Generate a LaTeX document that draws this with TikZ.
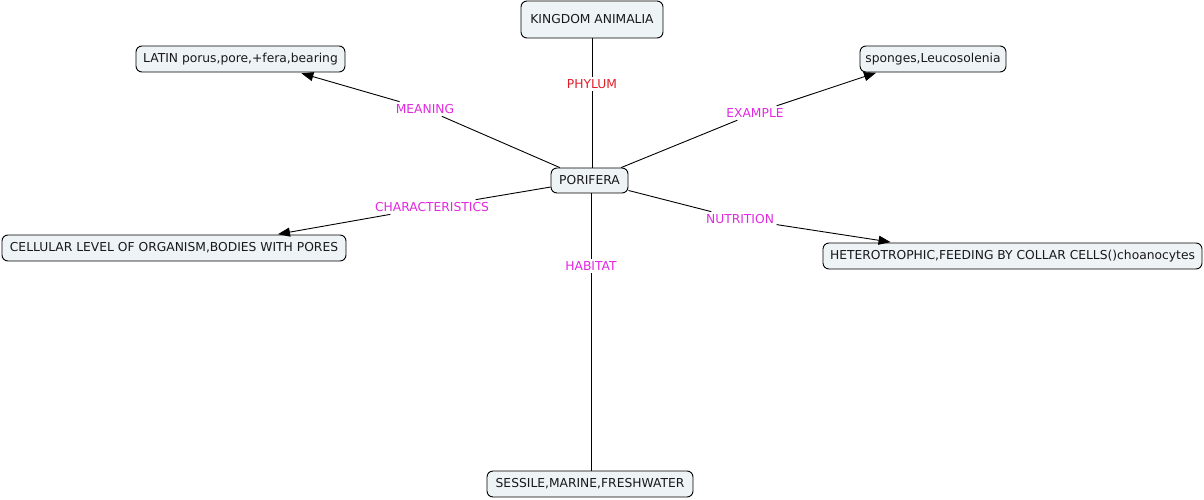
\documentclass[tikz,border=0pt]{standalone}
\usepackage{fontspec}
\setmainfont{DejaVu Sans}
\usetikzlibrary{arrows.meta}
\definecolor{boxfill}{RGB}{238,243,245}
\definecolor{lblmag}{RGB}{225,40,225}
\definecolor{lblred}{RGB}{225,30,40}
\begin{document}
\begin{tikzpicture}[x=1pt,y=-1pt,
  concept/.style={draw=black,line width=0.9pt,fill=boxfill,rounded corners=6pt,
    font=\fontsize{12.3}{14}\selectfont,inner sep=2pt,minimum height=26pt,text=black!90},
  linklbl/.style={font=\fontsize{12.3}{14}\selectfont,inner sep=2.5pt,text=lblmag},
  conn/.style={line width=0.9pt,black},
  arr/.style={conn,-{Triangle[length=12pt,width=9pt]}}]
\useasboundingbox (0,0) rectangle (1204,500);
% concepts
\node[concept,minimum width=142pt,minimum height=37pt] (kingdom) at (592,19.5) {KINGDOM ANIMALIA};
\node[concept,minimum width=209pt] (latin) at (240.5,59) {LATIN porus,pore,+fera,bearing};
\node[concept,minimum width=146pt] (sponges) at (933,59) {sponges,Leucosolenia};
\node[concept,minimum width=77pt,minimum height=25pt] (porifera) at (589.5,180.5) {PORIFERA};
\node[concept,minimum width=344pt] (cellular) at (174,248) {CELLULAR LEVEL OF ORGANISM,BODIES WITH PORES};
\node[concept,minimum width=379pt] (hetero) at (1012.5,256) {HETEROTROPHIC,FEEDING BY COLLAR CELLS()choanocytes};
\node[concept,minimum width=206pt] (sessile) at (590,484) {SESSILE,MARINE,FRESHWATER};
% link labels
\node[linklbl,text=lblred] (phylum) at (592,84) {PHYLUM};
\node[linklbl] (meaning) at (425,109) {MEANING};
\node[linklbl] (example) at (755,113) {EXAMPLE};
\node[linklbl] (charac) at (432,207) {CHARACTERISTICS};
\node[linklbl] (nutrition) at (740,219) {NUTRITION};
\node[linklbl] (habitat) at (591,266) {HABITAT};
% connectors
\draw[conn] (porifera.north -| phylum) -- (phylum);
\draw[conn] (phylum) -- (phylum |- kingdom.south);
\draw[conn] (porifera) -- (meaning);
\draw[arr,shorten >=3pt] (meaning) -- ([xshift=58pt]latin.south);
\draw[conn] (porifera) -- (example);
\draw[arr,shorten >=1pt] (example) -- ([xshift=-56pt]sponges.south);
\draw[conn] (porifera) -- (charac);
\draw[arr,shorten >=2pt] (charac) -- ([xshift=102pt]cellular.north);
\draw[conn] (porifera) -- (nutrition);
\draw[arr,shorten >=3pt] (nutrition) -- ([xshift=-119pt]hetero.north);
\draw[conn] (porifera.south -| habitat) -- (habitat);
\draw[conn] (habitat) -- (habitat |- sessile.north);
\end{tikzpicture}
\end{document}
